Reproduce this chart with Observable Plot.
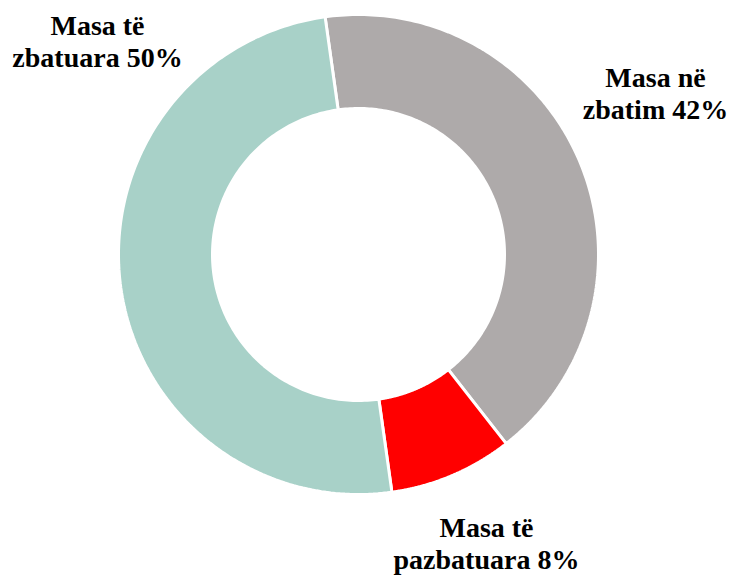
<!DOCTYPE html>
<html><head><meta charset="utf-8">
<script src="https://cdn.jsdelivr.net/npm/d3@7"></script>
<script src="https://cdn.jsdelivr.net/npm/@observablehq/plot@0.6"></script>
<style>html,body{margin:0;padding:0;background:#fff} svg text{font-family:"Liberation Serif","Times New Roman",serif !important;}</style>
</head><body><div id="chart"></div>
<script>
// Data
const categories = ["Masa në zbatim", "Masa të pazbatuara", "Masa të zbatuara"];
const shares = [41.67, 8.33, 50];
const labels = ["Masa në\nzbatim 42%", "Masa të\npazbatuara 8%", "Masa të\nzbatuara 50%"];
const colors = ["#AEAAAA", "#FF0000", "#A8D1C8"];

// Layout
const W = 731, H = 576, cx = 358, cy = 254, R = 240, innerFrac = 146 / 240;
const startDeg = -8;
const labelPx = [[655, 92], [486, 542], [97, 40]];

const total = d3.sum(shares);
let acc = startDeg * Math.PI / 180;
const pts = [];
shares.forEach((v, i) => {
  const a0 = acc, a1 = acc + v / total * 2 * Math.PI; acc = a1;
  const n = 160;
  for (let k = 0; k <= n; k++) { const a = a0 + (a1 - a0) * k / n; pts.push({cat: categories[i], x: Math.sin(a), y: Math.cos(a)}); }
  for (let k = n; k >= 0; k--) { const a = a0 + (a1 - a0) * k / n; pts.push({cat: categories[i], x: innerFrac * Math.sin(a), y: innerFrac * Math.cos(a)}); }
});
const labelData = categories.map((c, i) => ({cat: c, text: labels[i], x: (labelPx[i][0] - cx) / R, y: (cy - labelPx[i][1]) / R}));

const chart = Plot.plot({
  width: W, height: H,
  margin: 0,
  x: {domain: [-cx / R, (W - cx) / R], range: [0, W], axis: null},
  y: {domain: [-(H - cy) / R, cy / R], range: [H, 0], axis: null},
  color: {domain: categories, range: colors},
  style: {background: "#fff"},
  marks: [
    Plot.line(pts, {x: "x", y: "y", z: "cat", fill: "cat", stroke: "white", strokeWidth: 3, curve: "linear-closed", strokeLinejoin: "miter"}),
    Plot.text(labelData, {x: "x", y: "y", text: "text", fill: "black", fontSize: 28, fontWeight: "bold", fontFamily: "'Liberation Serif', 'Times New Roman', serif", lineHeight: 32 / 28, textAnchor: "middle", lineAnchor: "middle"})
  ]
});
document.getElementById("chart").appendChild(chart);
</script>
</body></html>
